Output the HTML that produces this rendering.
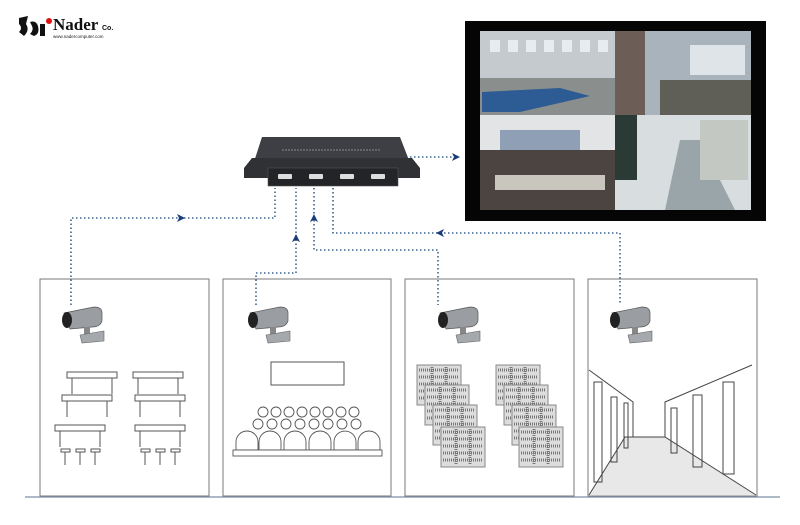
<!DOCTYPE html>
<html><head><meta charset="utf-8"><style>
body{margin:0;background:#fff;width:800px;height:520px;overflow:hidden;font-family:"Liberation Sans",sans-serif}
</style></head><body>
<svg width="800" height="520" viewBox="0 0 800 520" xmlns="http://www.w3.org/2000/svg">
<defs>
<g id="cam">
<path d="M0 6 L30 0 Q38 0 38 6 L38 14 Q36 20 28 20 L6 22 Z" fill="#9a9ea3" stroke="#555" stroke-width="0.7"/>
<ellipse cx="3" cy="13" rx="5" ry="8" fill="#222"/>
<rect x="20" y="20" width="6" height="8" fill="#888"/>
<path d="M16 28 L40 24 L40 34 L18 36 Z" fill="#a5a8ac" stroke="#666" stroke-width="0.6"/>
</g>
<g id="desk">
<rect x="0" y="0" width="50" height="6" fill="#fff" stroke="#555"/>
<line x1="5" y1="6" x2="5" y2="22" stroke="#555"/><line x1="45" y1="6" x2="45" y2="22" stroke="#555"/>
</g>
<g id="rack">
<rect x="0" y="0" width="44" height="40" fill="#ddd" stroke="#888"/>
<path d="M2 5h40M2 12h40M2 19h40M2 26h40M2 33h40M15 2v36M29 2v36" stroke="#777" stroke-width="3" stroke-dasharray="1 1"/>
</g>
</defs>
<!-- logo -->
<path d="M19 18 L28 16 L26 24 Q30 30 24 36 L19 32 Q23 28 19 24Z" fill="#111"/>
<path d="M30 22 Q36 20 38 26 Q40 34 34 36 L30 34 Q34 30 32 26Z" fill="#111"/>
<rect x="40" y="24" width="5" height="12" fill="#111"/>
<circle cx="49" cy="21" r="3" fill="#e01010"/>
<text x="53" y="30" font-size="17" font-weight="bold" fill="#111" font-family="Liberation Serif,serif">Nader</text>
<text x="102" y="30" font-size="7" font-weight="bold" fill="#111">Co.</text>
<text x="53" y="38" font-size="4.5" fill="#222">www.nadercomputer.com</text>
<!-- monitor -->
<rect x="465" y="21" width="301" height="200" fill="#050505"/>
<rect x="480" y="31" width="135" height="84" fill="#c4cace"/>
<g fill="#e8ecee"><rect x="490" y="40" width="10" height="12"/><rect x="508" y="40" width="10" height="12"/><rect x="526" y="40" width="10" height="12"/><rect x="544" y="40" width="10" height="12"/><rect x="562" y="40" width="10" height="12"/><rect x="580" y="40" width="10" height="12"/><rect x="598" y="40" width="10" height="12"/></g>
<rect x="480" y="78" width="135" height="37" fill="#8a8f8e"/>
<path d="M482 92 L560 88 L590 96 L520 112 L482 112Z" fill="#2c5c93"/>
<rect x="615" y="31" width="136" height="84" fill="#a9b3bb"/>
<rect x="615" y="31" width="30" height="84" fill="#6c5d56"/>
<rect x="690" y="45" width="55" height="30" fill="#dfe4e8"/>
<rect x="660" y="80" width="91" height="35" fill="#5f5f58"/>
<rect x="480" y="115" width="135" height="95" fill="#e2e4e6"/>
<rect x="500" y="130" width="80" height="20" fill="#8fa0b6"/>
<rect x="480" y="150" width="135" height="60" fill="#4b4440"/>
<rect x="495" y="175" width="110" height="15" fill="#c9c6bd"/>
<rect x="615" y="115" width="136" height="95" fill="#d8dde0"/>
<rect x="615" y="115" width="22" height="65" fill="#2a3b36"/>
<path d="M665 210 L680 140 L700 140 L735 210Z" fill="#9aa5aa"/>
<rect x="700" y="120" width="48" height="60" fill="#c3c8c3"/>
<!-- device -->
<path d="M262 137 L400 137 L412 168 L252 168Z" fill="#3d3f44"/>
<path d="M244 168 L252 158 L412 158 L420 168 L420 178 L244 178Z" fill="#2f3135"/>
<rect x="268" y="168" width="130" height="18" fill="#232428" stroke="#555" stroke-width="0.6"/>
<g fill="#ddd"><rect x="278" y="174" width="14" height="5" rx="1"/><rect x="309" y="174" width="14" height="5" rx="1"/><rect x="340" y="174" width="14" height="5" rx="1"/><rect x="371" y="174" width="14" height="5" rx="1"/></g>
<line x1="282" y1="150" x2="380" y2="150" stroke="#888" stroke-width="1" stroke-dasharray="2 1"/>
<!-- connectors -->
<g fill="none" stroke="#3a6690" stroke-width="1.6" stroke-dasharray="1.5 2.5">
<path d="M410 157 H455"/>
<path d="M71 305 V218 H275 V188"/>
<path d="M256 305 V273 H296 V188"/>
<path d="M314 188 V250 H438 V305"/>
<path d="M333 188 V233 H620 V305"/>
</g>
<g fill="#1b3c7a">
<path d="M452 153 L460 157 L452 161 L454 157Z"/>
<path d="M177 214 L185 218 L177 222 L179 218Z"/>
<path d="M292 242 L296 234 L300 242 L296 240Z"/>
<path d="M310 222 L314 214 L318 222 L314 220Z"/>
<path d="M444 229 L436 233 L444 237 L442 233Z"/>
</g>
<!-- panels -->
<g fill="none" stroke="#7a7a7a" stroke-width="1">
<rect x="40" y="279" width="169" height="217"/>
<rect x="223" y="279" width="168" height="217"/>
<rect x="405" y="279" width="169" height="217"/>
<rect x="588" y="279" width="169" height="217"/>
</g>
<line x1="25" y1="497" x2="780" y2="497" stroke="#7d8fa8" stroke-width="1.2"/>
<use href="#cam" x="64" y="307"/><use href="#cam" x="250" y="307"/><use href="#cam" x="440" y="307"/><use href="#cam" x="612" y="307"/>
<!-- classroom -->
<use href="#desk" x="67" y="372"/><use href="#desk" x="62" y="395"/><use href="#desk" x="55" y="425"/>
<use href="#desk" x="133" y="372"/><use href="#desk" x="135" y="395"/><use href="#desk" x="135" y="425"/>
<g stroke="#555" fill="#fff"><rect x="61" y="449" width="9" height="3"/><rect x="76" y="449" width="9" height="3"/><rect x="91" y="449" width="9" height="3"/><rect x="141" y="449" width="9" height="3"/><rect x="156" y="449" width="9" height="3"/><rect x="171" y="449" width="9" height="3"/></g>
<g stroke="#555" fill="none"><path d="M65 465v-13M80 465v-13M95 465v-13M145 465v-13M160 465v-13M175 465v-13"/></g>
<!-- lecture -->
<rect x="271" y="362" width="73" height="23" fill="#fff" stroke="#555"/>
<g fill="#fff" stroke="#555" stroke-width="0.9">
<circle cx="263" cy="412" r="5"/><circle cx="276" cy="412" r="5"/><circle cx="289" cy="412" r="5"/><circle cx="302" cy="412" r="5"/><circle cx="315" cy="412" r="5"/><circle cx="328" cy="412" r="5"/><circle cx="341" cy="412" r="5"/><circle cx="354" cy="412" r="5"/>
<circle cx="258" cy="424" r="5"/><circle cx="272" cy="424" r="5"/><circle cx="286" cy="424" r="5"/><circle cx="300" cy="424" r="5"/><circle cx="314" cy="424" r="5"/><circle cx="328" cy="424" r="5"/><circle cx="342" cy="424" r="5"/><circle cx="356" cy="424" r="5"/>
<path d="M236 450 v-8 a11 11 0 0 1 22 0 v8Z"/><path d="M259 450 v-8 a11 11 0 0 1 22 0 v8Z"/><path d="M284 450 v-8 a11 11 0 0 1 22 0 v8Z"/><path d="M309 450 v-8 a11 11 0 0 1 22 0 v8Z"/><path d="M334 450 v-8 a11 11 0 0 1 22 0 v8Z"/><path d="M358 450 v-8 a11 11 0 0 1 22 0 v8Z"/>
<rect x="233" y="450" width="149" height="6"/>
</g>
<!-- library -->
<use href="#rack" x="417" y="365"/><use href="#rack" x="425" y="385"/><use href="#rack" x="433" y="405"/><use href="#rack" x="441" y="427"/>
<use href="#rack" x="496" y="365"/><use href="#rack" x="504" y="385"/><use href="#rack" x="512" y="405"/><use href="#rack" x="519" y="427"/>
<!-- corridor -->
<path d="M589 495 L625 437 L665 437 L756 495Z" fill="#e8e8e8"/>
<g fill="none" stroke="#444" stroke-width="1">
<path d="M589 370 L633 402 L633 437 M589 495 L625 437 L665 437 L756 495 M665 437 L665 402 L752 365"/>
<path d="M594 382h8v100h-8zM611 397h6v65h-6zM624 403h4v45h-4zM671 408h6v45h-6zM693 395h9v72h-9zM723 382h11v92h-11z"/>
</g>
</svg>
</body></html>
